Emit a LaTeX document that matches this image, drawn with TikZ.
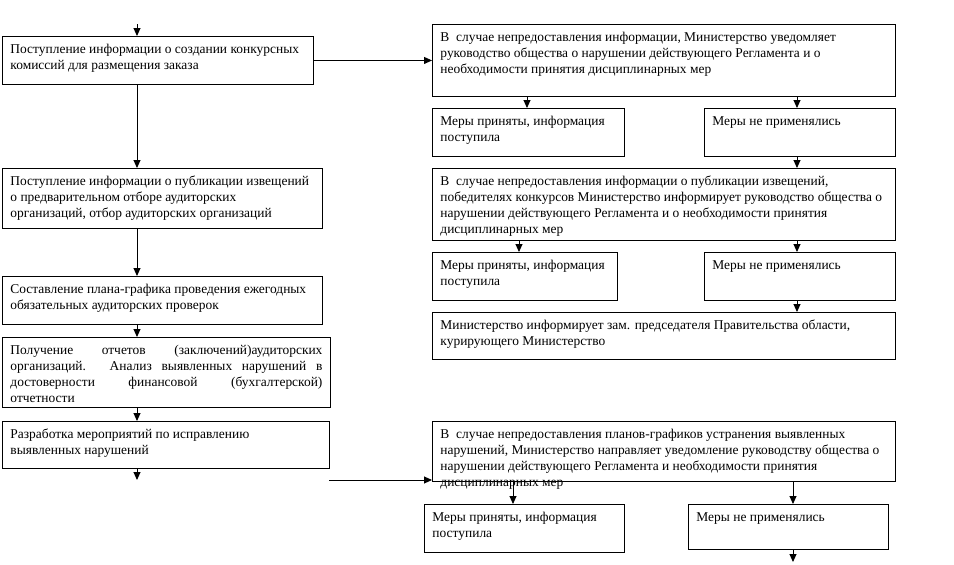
\documentclass[tikz,border=0pt]{standalone}
\usepackage{fontspec}
\setmainfont{Liberation Serif}
\usetikzlibrary{arrows.meta}
\newcommand\mkbox[6]{%
  \node[boxst] (#1) at (#2,#3) {\parbox[c][#5pt][t]{\dimexpr #4pt-16pt\relax}{\vspace*{6pt}\strut #6}};}
\newcommand\jline[1]{\makebox[\linewidth][s]{#1}}
\begin{document}
\begin{tikzpicture}[x=1pt,y=-1pt,
  boxst/.style={draw, line width=0.9pt, inner xsep=8pt, inner ysep=0pt, anchor=north west,
    font=\fontsize{13.45}{16}\selectfont},
  arr/.style={-{Triangle[width=7pt,length=8pt]}, line width=0.9pt},
  ln/.style={line width=0.9pt}]
\useasboundingbox[fill=white] (0,0) rectangle (954,565);
% left column
\mkbox{B1}{2}{36}{311}{48}{Поступление информации о создании конкурсных\\комиссий для размещения заказа}
\mkbox{B2}{2}{168}{320}{60}{Поступление информации о публикации извещений\\о предварительном отборе аудиторских\\организаций, отбор аудиторских организаций}
\mkbox{B3}{2}{276}{320}{48}{Составление плана-графика проведения ежегодных\\обязательных аудиторских проверок}
\mkbox{B4}{2}{337}{328}{70}{\jline{Получение отчетов (заключений)аудиторских}\\\jline{организаций. Анализ выявленных нарушений в}\\\jline{достоверности финансовой (бухгалтерской)}\\отчетности}
\mkbox{B5}{2}{421}{327}{47}{Разработка мероприятий по исправлению\\выявленных нарушений}
% right column
\mkbox{R1}{432}{24}{463}{72}{В\ \ случае непредоставления информации, Министерство уведомляет\\руководство общества о нарушении действующего Регламента и о\\необходимости принятия дисциплинарных мер}
\mkbox{R2a}{432}{108}{192}{48}{Меры приняты, информация\\поступила}
\mkbox{R2b}{704}{108}{191}{48}{Меры не применялись}
\mkbox{R3}{432}{168}{463}{72}{В\ \ случае непредоставления информации о публикации извещений,\\победителях конкурсов Министерство информирует руководство общества о\\нарушении действующего Регламента и о необходимости принятия\\дисциплинарных мер}
\mkbox{R4a}{432}{252}{185}{48}{Меры приняты, информация\\поступила}
\mkbox{R4b}{704}{252}{191}{48}{Меры не применялись}
\mkbox{R5}{432}{312}{463}{47}{Министерство информирует зам. председателя Правительства области,\\курирующего Министерство}
\mkbox{R6}{432}{421}{463}{60}{В\ \ случае непредоставления планов-графиков устранения выявленных\\нарушений, Министерство направляет уведомление руководству общества о\\нарушении действующего Регламента и необходимости принятия\\дисциплинарных мер}
\mkbox{R7a}{424}{504}{200}{48}{Меры приняты, информация\\поступила}
\mkbox{R7b}{688}{504}{200}{45}{Меры не применялись}
% coordinates
\coordinate (t0) at (137,24);
\coordinate (e0) at (137,480);
\coordinate (h0) at (329,480);
\coordinate (xa) at (527,0);
\coordinate (xb) at (797,0);
\coordinate (xc) at (519,0);
\coordinate (xd) at (513,0);
\coordinate (xe) at (793,0);
\coordinate (e1) at (793,562);
% left connectors
\draw[arr] (t0) -- (t0 |- B1.north);
\draw[arr] (t0 |- B1.south) -- (t0 |- B2.north);
\draw[arr] (t0 |- B2.south) -- (t0 |- B3.north);
\draw[arr] (t0 |- B3.south) -- (t0 |- B4.north);
\draw[arr] (t0 |- B4.south) -- (t0 |- B5.north);
\draw[arr] (t0 |- B5.south) -- (e0);
\draw[arr] (B1.east) -- (B1.east -| R1.west);
\draw[arr] (h0) -- (h0 -| R6.west);
% right connectors
\draw[arr] (xa |- R1.south) -- (xa |- R2a.north);
\draw[arr] (xb |- R1.south) -- (xb |- R2b.north);
\draw[arr] (xb |- R2b.south) -- (xb |- R3.north);
\draw[arr] (xc |- R3.south) -- (xc |- R4a.north);
\draw[arr] (xb |- R3.south) -- (xb |- R4b.north);
\draw[arr] (xb |- R4b.south) -- (xb |- R5.north);
\draw[arr] (xd |- R6.south) -- (xd |- R7a.north);
\draw[arr] (xe |- R6.south) -- (xe |- R7b.north);
\draw[arr] (xe |- R7b.south) -- (e1);
\end{tikzpicture}
\end{document}
